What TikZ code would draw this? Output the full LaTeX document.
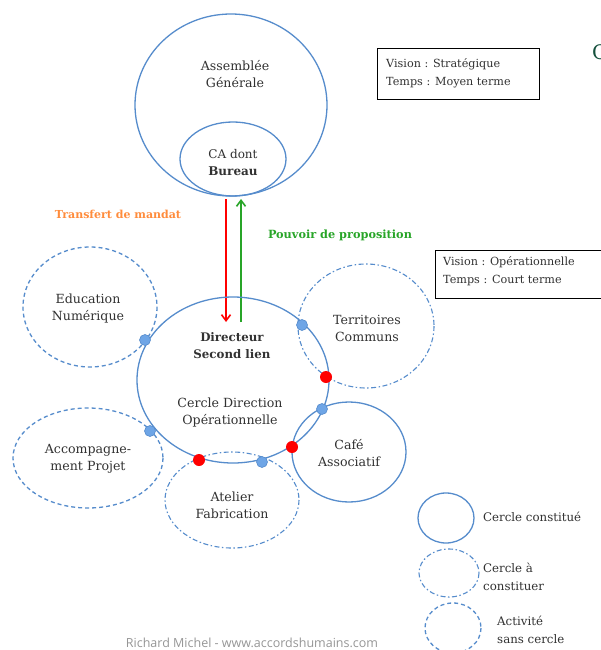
\documentclass[tikz,border=0pt]{standalone}
\usepackage{fontspec}
\setmainfont{DejaVu Serif}
\newfontfamily\credfont{Open Sans}
\usetikzlibrary{arrows.meta}
\definecolor{cblue}{RGB}{86,140,204}
\definecolor{dotblue}{RGB}{110,165,230}
\definecolor{txt}{RGB}{50,50,50}
\definecolor{orng}{RGB}{255,140,60}
\definecolor{grn}{RGB}{40,165,40}
\definecolor{dkgreen}{RGB}{20,80,60}
\definecolor{credgray}{RGB}{150,150,150}
\begin{document}
\begin{tikzpicture}[x=1pt,y=-1pt,
  solidc/.style={draw=cblue, line width=1.3pt},
  dashc/.style={draw=cblue, line width=1.3pt, dash pattern=on 4pt off 3pt},
  dotdashc/.style={draw=cblue, line width=1.1pt, dash pattern=on 5pt off 2.5pt on 1.5pt off 2.5pt},
  lbl/.style={text=txt, font=\fontsize{12.6}{17}\selectfont, align=center, inner sep=0pt},
  lleft/.style={text=txt, font=\fontsize{11.8}{18}\selectfont, align=left, inner sep=0pt, anchor=west},
  boxtxt/.style={text=txt, font=\fontsize{11.2}{18}\selectfont, align=left, inner sep=0pt, anchor=west},
  bdot/.style={circle, fill=dotblue, draw=cblue, line width=0.6pt, inner sep=0pt, minimum size=11pt},
  rdot/.style={circle, fill=red, inner sep=0pt, minimum size=12pt},
  infobox/.style={draw=black, line width=0.8pt}]
\useasboundingbox (0,0) rectangle (600,650);
\fill[white] (0,0) rectangle (600,650);

% top circles
\draw[solidc] (231,105) ellipse [x radius=96, y radius=91];
\draw[solidc] (233,159) ellipse [x radius=53, y radius=37];
\node[lbl] (ag) at (235,74) {Assemblée\\Générale};
\node[lbl, font=\fontsize{12}{17}\selectfont] (ca) at (233,163) {CA dont\\\textbf{Bureau}};

% info boxes
\draw[infobox] (377,48) rectangle (539,99);
\node[boxtxt] (v1) at (386,73) {Vision : Stratégique\\Temps : Moyen terme};
\draw[infobox] (435,250) rectangle (606,298);
\node[boxtxt] (v2) at (443,271) {Vision : Opérationnelle\\Temps : Court terme};
\node[text=dkgreen, font=\fontsize{20}{20}\selectfont, anchor=west, inner sep=0pt] (cc) at (592,52) {C};

% arrows
\coordinate (rs) at (226,199);
\coordinate (re) at (226,322);
\coordinate (gs) at (241,322);
\coordinate (ge) at (241,199);
\draw[red, line width=1.6pt, -{Straight Barb[length=6pt,width=9pt]}] (rs) -- (re);
\draw[grn, line width=1.6pt, -{Straight Barb[length=6pt,width=9pt]}] (gs) -- (ge);
\node[text=orng, font=\fontsize{11}{14}\selectfont\bfseries, inner sep=0pt] (tm) at (118,214) {Transfert de mandat};
\node[text=grn, font=\fontsize{11.3}{14}\selectfont\bfseries, inner sep=0pt] (pp) at (340,235) {Pouvoir de proposition};

% satellite circles
\draw[dashc] (90,307) ellipse [x radius=67, y radius=60];
\draw[dotdashc] (366,326) ellipse [x radius=68, y radius=62];
\draw[solidc] (349,452) ellipse [x radius=57, y radius=50];
\draw[dotdashc] (232,500) ellipse [x radius=67, y radius=48];
\draw[dashc] (88,458) ellipse [x radius=75, y radius=50];

% main circle
\draw[solidc] (233,380) ellipse [x radius=96, y radius=83];

\node[lbl] (edu) at (88,309) {Education\\Numérique};
\node[lbl] (ter) at (367,328) {Territoires\\Communs};
\node[lbl] (caf) at (349,453) {Café\\Associatif};
\node[lbl] (ate) at (232,505) {Atelier\\Fabrication};
\node[lbl] (acc) at (88,459) {Accompagne-\\ment Projet};
\node[lbl, font=\fontsize{11.8}{17}\selectfont] (dir) at (232,346) {\textbf{Directeur}\\\textbf{Second lien}};
\node[lbl] (cdo) at (230,413) {Cercle Direction\\Opérationnelle};

% link dots
\node[bdot] (d1) at (145,340) {};
\node[bdot] (d2) at (302,325) {};
\node[rdot] (d3) at (326,377) {};
\node[bdot] (d4) at (322,409) {};
\node[rdot] (d5) at (292,447) {};
\node[bdot] (d6) at (262,462) {};
\node[rdot] (d7) at (199,460) {};
\node[bdot] (d8) at (150,431) {};

% legend
\draw[solidc] (446,518) ellipse [x radius=28, y radius=25];
\node[lleft] (l1) at (483,517) {Cercle constitué};
\draw[dotdashc] (449,573) ellipse [x radius=30, y radius=24];
\node[lleft] (l2) at (483,577) {Cercle à\\constituer};
\draw[dashc] (453,628) ellipse [x radius=28, y radius=25];
\node[lleft] (l3) at (497,630) {Activité\\sans cercle};

% credit
\node[text=credgray, font=\credfont\fontsize{12.5}{14}\selectfont, inner sep=0pt] (cred) at (252,643) {Richard Michel - www.accordshumains.com};
\end{tikzpicture}
\end{document}
